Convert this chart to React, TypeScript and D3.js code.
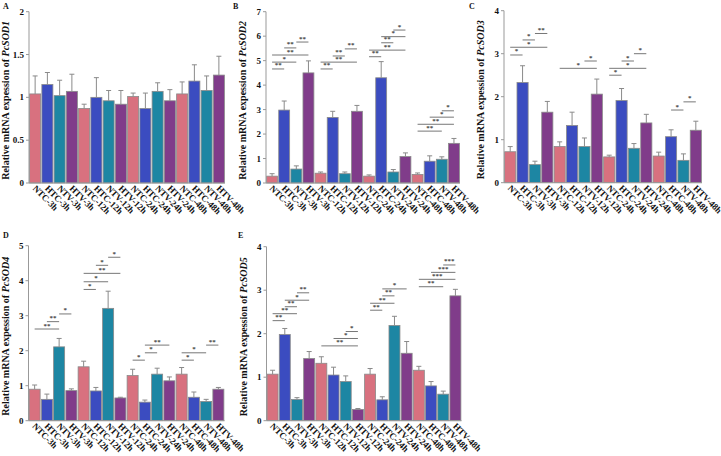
import React from "react";
import * as d3 from "d3";

const categories = [
  "NTC-3h", "HTC-3h", "NTV-3h", "HTV-3h",
  "NTC-12h", "HTC-12h", "NTV-12h", "HTV-12h",
  "NTC-24h", "HTC-24h", "NTV-24h", "HTV-24h",
  "NTC-48h", "HTC-48h", "NTV-48h", "HTV-48h",
];
const groupColors = ["#d8717f", "#3b4cc0", "#1d86a3", "#803c8a"];

const sod1Values = [1.04, 1.15, 1.02, 1.07, 0.87, 1.0, 0.96, 0.92, 1.01, 0.87, 1.07, 0.96, 1.04, 1.19, 1.08, 1.26];
const sod1Errors = [0.21, 0.14, 0.18, 0.2, 0.05, 0.23, 0.12, 0.16, 0.04, 0.18, 0.1, 0.13, 0.14, 0.19, 0.17, 0.22];

const sod2Values = [0.28, 2.98, 0.57, 4.5, 0.4, 2.68, 0.38, 2.93, 0.28, 4.3, 0.45, 1.08, 0.35, 0.89, 0.97, 1.62];
const sod2Errors = [0.1, 0.37, 0.13, 0.49, 0.05, 0.25, 0.07, 0.24, 0.05, 0.66, 0.1, 0.15, 0.06, 0.22, 0.1, 0.2];

const sod3Values = [0.72, 2.33, 0.42, 1.64, 0.84, 1.33, 0.84, 2.06, 0.6, 1.91, 0.8, 1.39, 0.62, 1.07, 0.52, 1.22];
const sod3Errors = [0.12, 0.39, 0.08, 0.25, 0.11, 0.31, 0.2, 0.35, 0.04, 0.28, 0.11, 0.2, 0.09, 0.16, 0.15, 0.21];

const sod4Values = [0.9, 0.61, 2.11, 0.86, 1.54, 0.85, 3.21, 0.65, 1.29, 0.53, 1.33, 1.14, 1.33, 0.67, 0.55, 0.9];
const sod4Errors = [0.12, 0.15, 0.24, 0.05, 0.16, 0.1, 0.49, 0.02, 0.18, 0.06, 0.17, 0.11, 0.19, 0.15, 0.06, 0.05];

const sod5Values = [1.07, 1.98, 0.49, 1.43, 1.32, 1.05, 0.9, 0.26, 1.07, 0.48, 2.19, 1.55, 1.16, 0.8, 0.61, 2.87];
const sod5Errors = [0.09, 0.14, 0.04, 0.16, 0.15, 0.18, 0.13, 0.02, 0.13, 0.07, 0.21, 0.27, 0.09, 0.1, 0.07, 0.15];

// [fromIndex, toIndex, yValue, label]
type Sig = [number, number, number, string];
const sod2Sig: Sig[] = [
  [0, 1, 4.66, "**"], [0, 2, 4.94, "*"], [0, 3, 5.23, "**"], [1, 2, 5.52, "**"], [2, 3, 5.76, "**"],
  [4, 5, 4.66, "**"], [4, 7, 4.94, "**"], [5, 6, 5.19, "**"], [6, 7, 5.48, "**"],
  [8, 9, 5.16, "**"], [8, 11, 5.43, "**"], [9, 10, 5.73, "**"], [9, 11, 5.98, "*"], [10, 11, 6.25, "*"],
  [12, 14, 2.12, "**"], [12, 15, 2.4, "**"], [13, 15, 2.69, "*"], [14, 15, 2.95, "*"],
];
const sod3Sig: Sig[] = [
  [0, 1, 2.97, "*"], [0, 3, 3.15, "*"], [1, 2, 3.32, "*"], [2, 3, 3.47, "**"],
  [4, 7, 2.66, "*"], [6, 7, 2.83, "*"],
  [8, 9, 2.5, "*"], [8, 11, 2.66, "*"], [9, 10, 2.83, "*"], [10, 11, 3.0, "*"],
  [13, 14, 1.69, "*"], [14, 15, 1.88, "*"],
];
const sod4Sig: Sig[] = [
  [0, 2, 2.62, "**"], [1, 2, 2.83, "**"], [2, 3, 3.05, "*"],
  [4, 5, 3.75, "*"], [4, 6, 3.97, "*"], [4, 7, 4.21, "**"], [5, 6, 4.44, "*"], [6, 7, 4.67, "*"],
  [8, 9, 1.73, "*"], [9, 10, 1.94, "*"], [9, 11, 2.16, "**"],
  [12, 13, 1.73, "*"], [12, 14, 1.94, "*"], [14, 15, 2.16, "**"],
];
const sod5Sig: Sig[] = [
  [0, 1, 2.3, "**"], [0, 2, 2.46, "**"], [1, 2, 2.62, "**"], [1, 3, 2.77, "*"], [2, 3, 2.94, "**"],
  [4, 7, 1.72, "**"], [5, 7, 1.89, "*"], [6, 7, 2.05, "*"],
  [8, 9, 2.54, "**"], [8, 10, 2.7, "**"], [9, 10, 2.87, "**"], [9, 11, 3.03, "*"],
  [12, 14, 3.08, "**"], [12, 15, 3.25, "***"], [13, 15, 3.41, "***"], [14, 15, 3.58, "***"],
];

const sod1Ticks = [0, 0.5, 1, 1.5, 2];
const sod2Ticks = [0, 1, 2, 3, 4, 5, 6, 7];
const sod3Ticks = [0, 1, 2, 3, 4];
const sod4Ticks = [0, 1, 2, 3, 4, 5];
const sod5Ticks = [0, 1, 2, 3, 4];

interface PanelProps {
  letter: string;
  letterX: number;
  letterY: number;
  gene: string;
  values: number[];
  errors: number[];
  sig: Sig[];
  ticks: number[];
  axisX: number;
  width: number;
  y0: number;
  yTop: number;
}

const FONT = "'Liberation Serif', 'Times New Roman', serif";

function Panel(p: PanelProps) {
  const maxV = p.ticks[p.ticks.length - 1];
  const y = d3.scaleLinear().domain([0, maxV]).range([p.y0, p.yTop]);
  const x = d3
    .scaleBand<string>()
    .domain(categories)
    .range([p.axisX, p.axisX + p.width])
    .paddingInner(0.1)
    .paddingOuter(0.05);
  const bw = x.bandwidth();
  const cx = (i: number) => (x(categories[i]) as number) + bw / 2;
  const fmt = d3.format("~g");
  const midY = (p.y0 + p.yTop) / 2 + 3;
  return (
    <g>
      <text x={p.letterX} y={p.letterY} fontFamily={FONT} fontWeight="bold" fontSize={8} fill="#111">
        {p.letter}
      </text>
      <text
        transform={`translate(${p.axisX - 20},${midY}) rotate(-90)`}
        textAnchor="middle"
        fontFamily={FONT}
        fontWeight="bold"
        fontSize={10}
        fill="#111"
      >
        Relative mRNA expession of <tspan fontStyle="italic">{p.gene}</tspan>
      </text>
      {/* bars */}
      {p.values.map((v, i) => (
        <rect
          key={"b" + i}
          x={x(categories[i]) as number}
          y={y(v)}
          width={bw}
          height={p.y0 - y(v)}
          fill={groupColors[i % 4]}
          stroke="#8a8a8a"
          strokeWidth={0.8}
        />
      ))}
      {/* error bars */}
      {p.values.map((v, i) => {
        const top = y(v + p.errors[i]);
        return (
          <g key={"e" + i} stroke="#8a8a8a" strokeWidth={1}>
            <line x1={cx(i)} x2={cx(i)} y1={y(v)} y2={top} />
            <line x1={cx(i) - 2.5} x2={cx(i) + 2.5} y1={top} y2={top} />
          </g>
        );
      })}
      {/* axes */}
      <line x1={p.axisX} x2={p.axisX} y1={p.y0} y2={p.yTop} stroke="#999" strokeWidth={1} />
      <line x1={p.axisX} x2={p.axisX + p.width} y1={p.y0} y2={p.y0} stroke="#999" strokeWidth={1} />
      {p.ticks.map((t) => (
        <g key={"t" + t}>
          <line x1={p.axisX - 3} x2={p.axisX} y1={y(t)} y2={y(t)} stroke="#999" strokeWidth={1} />
          <text
            x={p.axisX - 5}
            y={y(t) + 3}
            textAnchor="end"
            fontFamily={FONT}
            fontWeight="bold"
            fontSize={9}
            fill="#111"
          >
            {fmt(t)}
          </text>
        </g>
      ))}
      {categories.map((c, i) => (
        <text
          key={"c" + i}
          transform={`translate(${cx(i) - 3},${p.y0 + 6}) rotate(45)`}
          fontFamily={FONT}
          fontWeight="bold"
          fontSize={9}
          fill="#111"
        >
          {c}
        </text>
      ))}
      {/* significance */}
      {p.sig.map(([a, b, v, lab], k) => (
        <g key={"s" + k}>
          <line x1={cx(a)} x2={cx(b)} y1={y(v)} y2={y(v)} stroke="#777" strokeWidth={1} />
          <text
            x={(cx(a) + cx(b)) / 2}
            y={y(v) - 1.5}
            textAnchor="middle"
            fontFamily={FONT}
            fontWeight="bold"
            fontSize={7}
            fill="#444"
          >
            {lab}
          </text>
        </g>
      ))}
    </g>
  );
}

export default function App() {
  return (
    <svg
      width={721}
      height={456}
      style={{ position: "absolute", left: 0, top: 0, background: "#fff" }}
    >
      <rect width={721} height={456} fill="#fff" />
      <Panel letter="A" letterX={3} letterY={9} gene="PcSOD1" values={sod1Values} errors={sod1Errors}
        sig={[]} ticks={sod1Ticks} axisX={29} width={196} y0={183} yTop={11.7} />
      <Panel letter="B" letterX={233} letterY={9} gene="PcSOD2" values={sod2Values} errors={sod2Errors}
        sig={sod2Sig} ticks={sod2Ticks} axisX={266} width={194} y0={183} yTop={11.7} />
      <Panel letter="C" letterX={469} letterY={9} gene="PcSOD3" values={sod3Values} errors={sod3Errors}
        sig={sod3Sig} ticks={sod3Ticks} axisX={504} width={198} y0={182.7} yTop={10.7} />
      <Panel letter="D" letterX={3} letterY={238} gene="PcSOD4" values={sod4Values} errors={sod4Errors}
        sig={sod4Sig} ticks={sod4Ticks} axisX={28.5} width={196} y0={420.7} yTop={245.7} />
      <Panel letter="E" letterX={238} letterY={238} gene="PcSOD5" values={sod5Values} errors={sod5Errors}
        sig={sod5Sig} ticks={sod5Ticks} axisX={266.5} width={195} y0={420.7} yTop={246.7} />
    </svg>
  );
}
